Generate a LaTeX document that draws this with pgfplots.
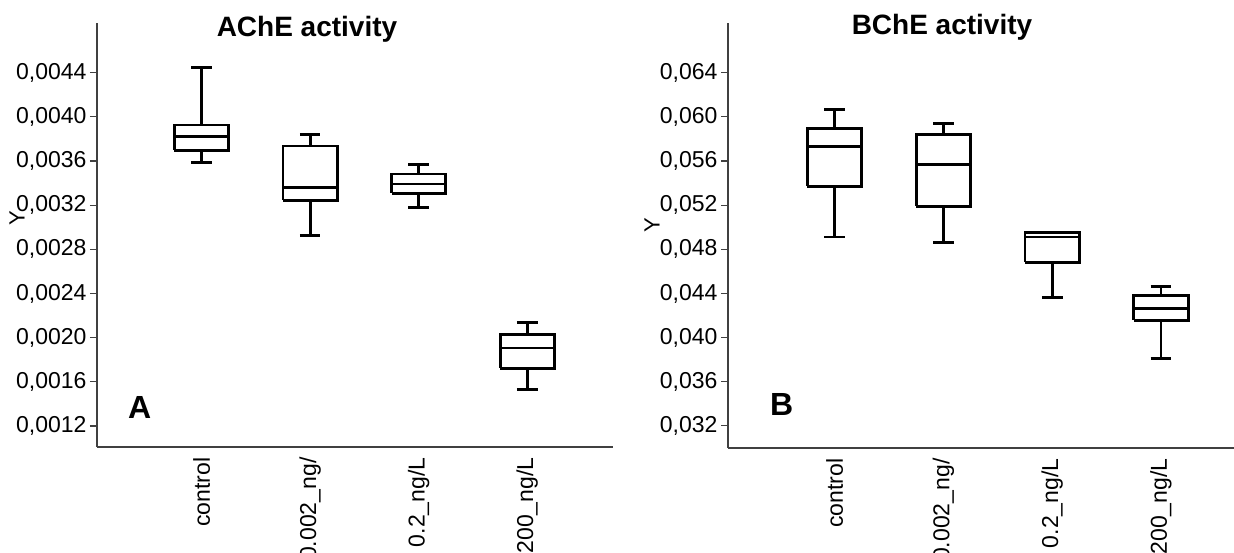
\documentclass[border=0pt]{standalone}
\usepackage{fontspec}
\setmainfont{Liberation Sans}
\usepackage{pgfplots}
\pgfplotsset{compat=1.18}
\pgfplotsset{
  chebox/.style={
    scale only axis,
    axis lines=left,
    axis line style={-,line width=1.3pt,black!75},
    xtick={1,2,3,4},
    xticklabels={control,0.002\_ng/,0.2\_ng/L,200\_ng/L},
    x tick label style={rotate=90,anchor=east,font=\fontsize{23}{27}\selectfont},
    xtick style={draw=none},
    y tick label style={font=\fontsize{23}{27}\selectfont},
    ytick style={line width=1.1pt,black!75},
    tick align=outside,
    major tick length=7pt,
    tick pos=left,
    clip=false,
    unbounded coords=jump,
  },
  % box: lower quartile -> upper quartile, then median, whiskers and caps
  bx/.style={black,line width=2.8pt,solid,mark=none,line join=miter},
}
\begin{document}
\begin{tikzpicture}
\path[use as bounding box] (0,0) rectangle (1234pt,-553pt);
% panel A, values in units of 1e-4
\begin{axis}[chebox,
  at={(97pt,-447pt)},anchor=south west,
  width=516pt,height=424pt,
  xmin=0.036,xmax=4.79,
  ymin=10.1,ymax=48.5,
  ytick={12,16,20,24,28,32,36,40,44},
  yticklabels={{0,0012},{0,0016},{0,0020},{0,0024},{0,0028},{0,0032},{0,0036},{0,0040},{0,0044}},
]
% control: 35.84 / 36.97 / 38.2 / 39.26 / 44.45
\addplot[bx] coordinates {(0.75,36.97) (1.25,36.97) (1.25,39.26) (0.75,39.26) (0.75,36.97) (1,nan)
  (0.75,38.2) (1.25,38.2) (1,nan) (1,39.26) (1,44.45) (1,nan) (0.905,44.45) (1.095,44.45) (1,nan)
  (1,36.97) (1,35.84) (1,nan) (0.905,35.84) (1.095,35.84)};
% 0.002: 29.22 / 32.46 / 33.58 / 37.36 / 38.38
\addplot[bx] coordinates {(1.75,32.46) (2.25,32.46) (2.25,37.36) (1.75,37.36) (1.75,32.46) (2,nan)
  (1.75,33.58) (2.25,33.58) (2,nan) (2,37.36) (2,38.38) (2,nan) (1.905,38.38) (2.095,38.38) (2,nan)
  (2,32.46) (2,29.22) (2,nan) (1.905,29.22) (2.095,29.22)};
% 0.2: 31.77 / 33.06 / 33.92 / 34.82 / 35.71
\addplot[bx] coordinates {(2.75,33.06) (3.25,33.06) (3.25,34.82) (2.75,34.82) (2.75,33.06) (3,nan)
  (2.75,33.92) (3.25,33.92) (3,nan) (3,34.82) (3,35.71) (3,nan) (2.905,35.71) (3.095,35.71) (3,nan)
  (3,33.06) (3,31.77) (3,nan) (2.905,31.77) (3.095,31.77)};
% 200: 15.3 / 17.21 / 19.07 / 20.29 / 21.37
\addplot[bx] coordinates {(3.75,17.21) (4.25,17.21) (4.25,20.29) (3.75,20.29) (3.75,17.21) (4,nan)
  (3.75,19.07) (4.25,19.07) (4,nan) (4,20.29) (4,21.37) (4,nan) (3.905,21.37) (4.095,21.37) (4,nan)
  (4,17.21) (4,15.3) (4,nan) (3.905,15.3) (4.095,15.3)};
\end{axis}
% panel B, values in units of 1e-3
\begin{axis}[chebox,
  at={(728pt,-448pt)},anchor=south west,
  width=520pt,height=425pt,
  xmin=0.02,xmax=4.8,
  ymin=30.0,ymax=68.5,
  ytick={32,36,40,44,48,52,56,60,64},
  yticklabels={{0,032},{0,036},{0,040},{0,044},{0,048},{0,052},{0,056},{0,060},{0,064}},
]
% control: 49.11 / 53.7 / 57.28 / 58.97 / 60.67
\addplot[bx] coordinates {(0.75,53.7) (1.25,53.7) (1.25,58.97) (0.75,58.97) (0.75,53.7) (1,nan)
  (0.75,57.28) (1.25,57.28) (1,nan) (1,58.97) (1,60.67) (1,nan) (0.905,60.67) (1.095,60.67) (1,nan)
  (1,53.7) (1,49.11) (1,nan) (0.905,49.11) (1.095,49.11)};
% 0.002: 48.65 / 51.89 / 55.67 / 58.37 / 59.4
\addplot[bx] coordinates {(1.75,51.89) (2.25,51.89) (2.25,58.37) (1.75,58.37) (1.75,51.89) (2,nan)
  (1.75,55.67) (2.25,55.67) (2,nan) (2,58.37) (2,59.4) (2,nan) (1.905,59.4) (2.095,59.4) (2,nan)
  (2,51.89) (2,48.65) (2,nan) (1.905,48.65) (2.095,48.65)};
% 0.2: 43.65 / 46.81 / 49.11 / 49.49 (no upper whisker)
\addplot[bx] coordinates {(2.75,46.81) (3.25,46.81) (3.25,49.49) (2.75,49.49) (2.75,46.81) (3,nan)
  (2.75,49.11) (3.25,49.11) (3,nan)
  (3,46.81) (3,43.65) (3,nan) (2.905,43.65) (3.095,43.65)};
% 200: 38.09 / 41.58 / 42.67 / 43.8 / 44.64
\addplot[bx] coordinates {(3.75,41.58) (4.25,41.58) (4.25,43.8) (3.75,43.8) (3.75,41.58) (4,nan)
  (3.75,42.67) (4.25,42.67) (4,nan) (4,43.8) (4,44.64) (4,nan) (3.905,44.64) (4.095,44.64) (4,nan)
  (4,41.58) (4,38.09) (4,nan) (3.905,38.09) (4.095,38.09)};
\end{axis}
% titles and labels
\node[anchor=base,inner sep=0,font=\fontsize{28}{32}\selectfont\bfseries] at (307pt,-36.7pt) {AChE activity};
\node[anchor=base,inner sep=0,font=\fontsize{28}{32}\selectfont\bfseries] at (942pt,-35pt) {BChE activity};
\node[anchor=base west,inner sep=0,font=\fontsize{32}{36}\selectfont\bfseries] at (128pt,-418pt) {A};
\node[anchor=base west,inner sep=0,font=\fontsize{32}{36}\selectfont\bfseries] at (770pt,-415pt) {B};
\node[rotate=90,inner sep=0,font=\fontsize{22}{26}\selectfont] at (17pt,-218pt) {Y};
\node[rotate=90,inner sep=0,font=\fontsize{22}{26}\selectfont] at (652pt,-225pt) {Y};
\end{tikzpicture}
\end{document}
